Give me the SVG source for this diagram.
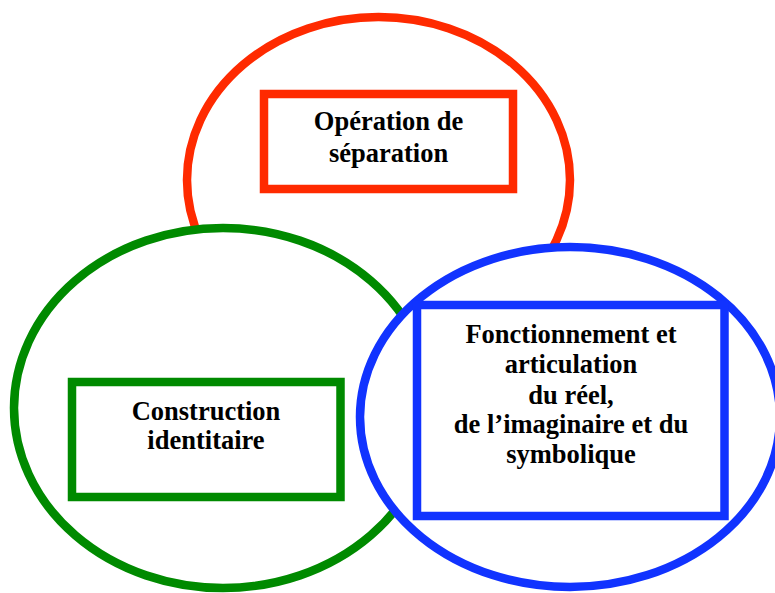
<svg xmlns="http://www.w3.org/2000/svg" width="775" height="593" viewBox="0 0 775 593">
<style>
.e{fill:#fff;stroke-width:8.5}
.r{fill:none;stroke-width:8.5}
.t{font-family:"Liberation Serif","Times New Roman",serif;font-weight:bold;font-size:26.5px;fill:#000;text-anchor:middle}
.red{stroke:#ff2a00}
.green{stroke:#008a00}
.blue{stroke:#1133ff}
</style>
<rect width="775" height="593" fill="#fff"/>
<g id="separation">
<ellipse class="e red" cx="378.5" cy="180" rx="191.5" ry="163"/>
<rect class="r red" x="264" y="94" width="249" height="95"/>
<text class="t" x="388.5" y="130">Opération de</text>
<text class="t" x="388.5" y="162">séparation</text>
</g>
<g id="construction">
<ellipse class="e green" cx="223" cy="408" rx="209" ry="180"/>
<rect class="r green" x="72" y="382" width="268.5" height="115"/>
<text class="t" x="206" y="420">Construction</text>
<text class="t" x="206" y="449">identitaire</text>
</g>
<g id="fonctionnement">
<ellipse class="e blue" cx="570" cy="417" rx="210" ry="170"/>
<rect class="r blue" x="417" y="305" width="307.5" height="211"/>
<text class="t" x="571" y="343">Fonctionnement et</text>
<text class="t" x="571" y="373">articulation</text>
<text class="t" x="571" y="404">du réel,</text>
<text class="t" x="571" y="433">de l’imaginaire et du</text>
<text class="t" x="571" y="463">symbolique</text>
</g>
<g id="connectors"/>
</svg>
